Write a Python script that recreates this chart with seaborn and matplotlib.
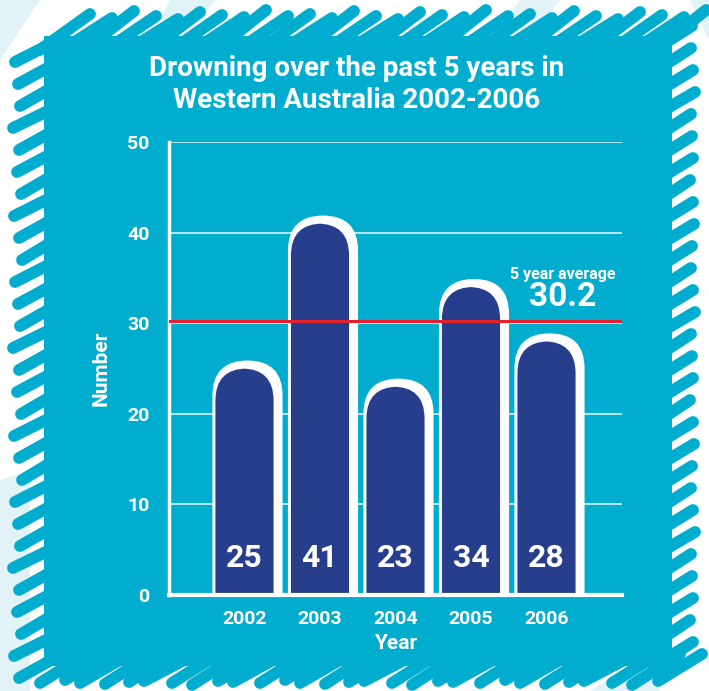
import matplotlib
matplotlib.use("Agg")
import matplotlib.pyplot as plt
from matplotlib.patches import FancyBboxPatch, Rectangle, Polygon
import seaborn as sns
import pandas as pd

# Drownings per year, Western Australia
years = ["2002", "2003", "2004", "2005", "2006"]
counts = [25, 41, 23, 34, 28]
average = 30.2
y_ticks = [0, 10, 20, 30, 40, 50]

title_lines = ["Drowning over the past 5 years in", "Western Australia 2002-2006"]

CYAN = "#00ADCF"
NAVY = "#273E8D"
RED = "#E3202B"
PALE = "#E2F3F8"
W, H = 709, 691

plt.rcParams["font.family"] = ["Roboto", "DejaVu Sans"]
plt.rcParams["font.weight"] = "bold"

fig = plt.figure(figsize=(W / 100, H / 100), dpi=100)
fig.patch.set_facecolor("white")

# ---- decorative backdrop in pixel coordinates ----
bg = fig.add_axes([0, 0, 1, 1], zorder=0)
bg.set_xlim(0, W)
bg.set_ylim(H, 0)
bg.axis("off")

# faint diagonal bands behind the panel
for pts in [
    [(0, 0), (40, 0), (0, 60)],
    [(170, 0), (215, 0), (200, 20), (160, 20)],
    [(520, 0), (560, 0), (545, 20), (505, 20)],
    [(0, 480), (30, 470), (30, 691), (0, 691)],
    [(590, 691), (640, 660), (660, 691)],
    [(690, 0), (709, 0), (709, 40)],
]:
    bg.add_patch(Polygon(pts, closed=True, color=PALE, lw=0))

# scribbled cyan panel
bg.add_patch(Rectangle((44, 36), 628, 630, color=CYAN, lw=0))
jit = [0, 4, -3, 2, 5, -2, 1, 3, -4, 2]
stroke = dict(color=CYAN, lw=8.5, solid_capstyle="round")
for k, x0 in enumerate(range(50, 672, 22)):
    j = jit[k % len(jit)]
    bg.plot([x0 - 10, x0 + 40], [50, 14 + j], **stroke)
for k, x0 in enumerate(range(42, 662, 22)):
    j = jit[(k + 3) % len(jit)]
    bg.plot([x0 - 4 + j, x0 + 44], [685 - abs(j), 654], **stroke)
for k, y0 in enumerate(range(62, 685, 22)):
    j = jit[(k + 5) % len(jit)]
    bg.plot([17 + j, 62], [y0, y0 - 24], **stroke)
for k, y0 in enumerate(range(40, 676, 22)):
    j = jit[(k + 7) % len(jit)]
    bg.plot([654, 695 - abs(j)], [y0 + 10, y0 - 14], **stroke)

# ---- chart axes ----
left, right, bottom, top = 169, 622, 595, 142
ax = fig.add_axes([left / W, 1 - bottom / H, (right - left) / W, (bottom - top) / H], zorder=2)
ax.patch.set_alpha(0)

df = pd.DataFrame({"Year": years, "Number": counts})
sns.barplot(data=df, x="Year", y="Number", color=NAVY, width=0.77, saturation=1, ax=ax)

ax.set_xlim(-1, 5)
ax.set_ylim(0, 50)
ax.set_yticks(y_ticks)

px_x = (right - left) / 6.0
px_y = (bottom - top) / 50.0
aspect = px_x / px_y
r = 32 / px_x

# replace the flat bars with rounded-top bars on a white offset backing
for p, v in zip(list(ax.patches), counts):
    x, w = p.get_x(), p.get_width()
    p.set_visible(False)
    back = FancyBboxPatch((x - 3 / px_x, -8), w + 12 / px_x, v + 8 + 8 / px_y,
                          boxstyle=f"round,pad=0,rounding_size={r * 1.1}",
                          mutation_aspect=aspect, fc="white", ec="none", zorder=1.5)
    bar = FancyBboxPatch((x, -8), w, v + 8,
                         boxstyle=f"round,pad=0,rounding_size={r}",
                         mutation_aspect=aspect, fc=NAVY, ec="none", zorder=1.6)
    ax.add_patch(back)
    ax.add_patch(bar)

for i, v in enumerate(counts):
    ax.text(i, 4.1, str(v), ha="center", va="center", color="white",
            fontsize=23, fontweight="bold", zorder=4)

ax.axhline(average, color=RED, lw=2.2, zorder=3)
ax.text(4.21, 35.4, "5 year average", ha="center", va="center", color="white",
        fontsize=11.5, fontweight="bold")
ax.text(4.21, 32.9, f"{average}", ha="center", va="center", color="white",
        fontsize=24, fontweight="bold")

ax.set_axisbelow(True)
ax.grid(axis="y", color="#D8F1F7", lw=1.2)
ax.grid(axis="x", visible=False)
for s in ["top", "right"]:
    ax.spines[s].set_visible(False)
ax.spines["left"].set_color("white")
ax.spines["left"].set_linewidth(2.5)
ax.spines["bottom"].set_color("white")
ax.spines["bottom"].set_linewidth(3)
ax.tick_params(length=0, colors="white", labelsize=14)
ax.tick_params(axis="y", pad=14)
ax.tick_params(axis="x", pad=11)
for lab in ax.get_xticklabels() + ax.get_yticklabels():
    lab.set_fontweight("bold")

ax.set_xlabel("Year", color="white", fontsize=15, fontweight="bold", labelpad=4)
ax.set_ylabel("Number", color="white", fontsize=15, fontweight="bold", labelpad=12)

for t, yp in zip(title_lines, [68, 100]):
    fig.text(357 / W, 1 - yp / H, t, ha="center", va="center", color="white",
             fontsize=20, fontweight="bold")

fig.savefig("out.png", dpi=100, facecolor="white")
